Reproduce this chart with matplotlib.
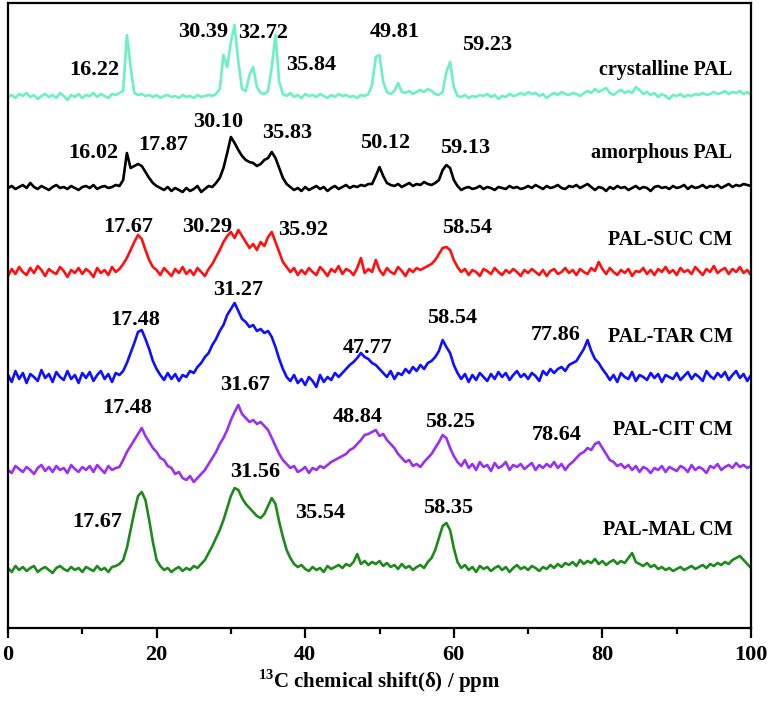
import numpy as np
import matplotlib
matplotlib.use("Agg")
import matplotlib.pyplot as plt

plt.rcParams['font.family'] = ['Liberation Serif', 'DejaVu Serif']
plt.rcParams['font.weight'] = 'bold'
plt.rcParams['mathtext.fontset'] = 'custom'
plt.rcParams['mathtext.rm'] = 'Liberation Serif:bold'
plt.rcParams['mathtext.bf'] = 'Liberation Serif:bold'

# ---------------- data (intensity above each trace baseline, 0.5 ppm steps, 0..100 ppm)
crystalline_pal = [
    0, 2, -1, 3, 1, 4, 0, 2, -2, 1, 3, 0, 2, -1, 4, 1, -3, 2, 0, 3,
    -1, 2, 1, 4, 0, 3, 1, -1, 3, 2, 4, 6, 62, 30, 4, 2, 3, 1, 2, 0,
    2, -1, 1, 2, 0, 1, -1, 2, 0, 1, -1, 2, 0, 1, 2, 1, 3, 8, 42, 30,
    55, 72, 35, 8, 6, 22, 30, 10, 4, 3, 6, 30, 62, 15, 3, 1, 4, 0, 2, -1,
    3, 1, 2, 0, 3, 1, -1, 2, 0, 3, 1, 2, 0, 1, -1, 2, 1, 3, 12, 40,
    42, 15, 5, 3, 6, 14, 5, 4, 6, 3, 5, 7, 5, 8, 6, 3, 2, 5, 25, 35,
    10, 1, 0, 2, -1, 1, 0, 2, 1, 3, 0, 2, -2, 1, 0, 3, 1, 2, 4, 2,
    5, 3, 4, 1, 3, -1, 2, 4, 2, 5, 3, 2, 4, 3, 1, 4, 6, 4, 8, 5,
    7, 9, 4, 2, 5, 7, 4, 6, 4, 10, 7, 3, 5, 2, 4, 0, 3, 1, -2, 2,
    1, 3, 0, 2, 1, 3, 2, 4, 2, 3, 5, 3, 4, 6, 3, 5, 4, 6, 3, 5,
    2]
amorphous_pal = [
    0, 2, -1, 1, 3, 0, 5, 1, -1, 2, 0, -2, 1, 3, 0, 1, -1, 2, 0, -2,
    1, 2, 0, 3, -1, 1, 2, 0, 1, 3, 2, 8, 35, 20, 22, 24, 22, 16, 10, 5,
    2, 0, -2, 1, -3, 0, -2, -4, 0, -3, -1, 2, -4, -1, 2, 1, 5, 10, 20, 35,
    51, 45, 38, 32, 28, 26, 25, 22, 24, 28, 30, 36, 30, 20, 10, 4, 1, -2, 0, -3,
    1, -2, 0, 2, -1, 1, -3, 0, 2, -1, 1, 3, 0, 2, 1, 3, 2, 4, 4, 12,
    21, 12, 5, 3, 2, 4, 1, 3, 5, 2, 4, 3, 6, 4, 3, 5, 8, 18, 23, 20,
    8, 2, -2, 0, 1, -1, 0, 2, -1, 1, 0, -2, 1, 0, -1, 2, 0, 1, -1, 0,
    2, 0, 3, 1, -1, 2, 0, 1, 3, 0, -1, 2, 1, 3, 0, 2, 4, 1, -2, 1,
    0, -3, 1, -1, 2, 0, 1, -2, 0, 2, -1, 1, 0, -3, 1, 2, 0, 1, -1, 2,
    0, 1, 3, -1, 2, 0, 1, 3, 0, 2, 1, 3, 0, 2, 4, 1, 3, 2, 4, 3,
    2]
pal_suc = [
    -4, 3, -2, 5, 0, -3, 4, -1, 6, 2, -4, 3, 0, -2, 5, 1, -5, 2, -1, 4,
    -2, 3, 0, -5, 4, -1, 2, -3, 5, 0, 3, 8, 14, 22, 30, 37, 33, 22, 12, 5,
    2, -3, 4, 0, -4, 3, -1, 5, -2, 2, -3, 4, 0, -4, 3, 8, 15, 22, 30, 36,
    40, 34, 42, 36, 30, 24, 28, 22, 30, 26, 35, 40, 30, 20, 10, 5, 0, 4, -3, 2,
    -2, 4, 0, -3, 5, 1, -4, 3, 0, 6, -2, 3, 1, -3, 4, 14, -1, 3, 0, 12,
    2, -3, 4, 0, -2, 5, 1, -4, 3, 0, 4, 2, 4, 6, 8, 12, 18, 24, 25, 22,
    12, 5, 0, 3, -3, 2, 0, -4, 3, 1, -2, 4, 0, -3, 2, -1, 3, 0, -4, 2,
    -1, 3, 0, -3, 2, -4, 1, 3, -2, 0, 4, -1, 2, -3, 3, 0, -2, 4, 1, 10,
    3, -2, 4, 0, -3, 2, -1, 3, -4, 1, 0, 4, -2, 2, -3, 3, 0, 5, -1, 2,
    -3, 4, 0, 2, -2, 5, 1, -3, 3, 0, 6, -1, 2, 4, -2, 3, 0, 5, -1, 2,
    -3]
pal_tar = [
    2, -5, 6, -2, 4, -6, 3, 0, -4, 7, -1, 3, -5, 5, 0, -3, 6, -2, 2, -6,
    4, -1, 5, -4, 2, 6, -2, 3, -5, 4, 2, 6, 14, 24, 34, 45, 47, 38, 28, 16,
    8, 2, -3, 4, -2, 3, -4, 2, 0, 6, 4, 10, 14, 20, 24, 32, 38, 46, 52, 62,
    68, 74, 66, 58, 55, 50, 52, 46, 48, 44, 46, 40, 30, 18, 8, 0, -4, 2, -6, -2,
    -8, 0, -4, -10, 2, -5, 0, -3, 4, 0, 4, 8, 12, 15, 19, 24, 20, 18, 14, 12,
    8, 4, 0, 6, -2, 4, 2, 8, 4, 10, 6, 12, 8, 14, 16, 20, 26, 37, 30, 24,
    12, 4, -2, 3, -5, 2, -3, 4, 0, -4, 3, -2, 5, 0, 4, -3, 2, 6, 0, 3,
    -2, 4, 1, -4, 6, 2, 8, 4, 8, 10, 6, 12, 14, 16, 22, 28, 37, 26, 18, 14,
    8, 3, -3, 2, -5, 4, 0, -2, 5, -4, 2, 0, -3, 4, -1, 3, -5, 2, 0, -2,
    4, -3, 1, 5, -2, 3, 0, -4, 6, 1, -2, 4, 0, 5, -3, 2, 6, -1, 3, -4,
    2]
pal_cit = [
    0, -3, 4, 1, -2, 3, 0, -4, 2, 5, -1, 3, -2, 4, 0, 2, -3, 5, 1, -2,
    3, 0, 4, -2, 5, 1, -3, 4, 0, 2, 3, 10, 18, 24, 30, 36, 42, 34, 28, 22,
    18, 12, 10, 4, 2, -4, -2, -8, -10, -6, -12, -8, -4, 0, 6, 12, 18, 26, 32, 40,
    50, 58, 65, 56, 52, 48, 50, 46, 48, 44, 40, 32, 24, 16, 10, 6, 2, 4, -2, 0,
    3, -3, 2, 0, 4, 2, 5, 8, 10, 12, 14, 16, 20, 22, 26, 30, 35, 36, 38, 40,
    34, 36, 30, 26, 22, 16, 12, 8, 10, 4, 6, 3, 8, 12, 16, 22, 28, 35, 32, 22,
    14, 8, 4, 10, 2, 6, 0, 8, 3, 5, -1, 7, 2, 4, 8, 0, 5, 3, 6, 1,
    4, 7, 0, 5, 2, 6, 3, 8, 2, 6, 0, 5, 8, 12, 16, 18, 22, 20, 26, 28,
    22, 16, 10, 8, 4, 6, 2, 5, 0, 4, -2, 3, 1, -3, 2, 0, 4, -2, 3, 1,
    -1, 4, 2, -2, 5, 0, 3, 1, -3, 4, 2, 6, 0, 3, 5, 2, 7, 3, 5, 2,
    4]
pal_mal = [
    2, -2, 4, 0, 3, -1, 2, 4, -2, 1, 3, 0, -3, 2, 4, 1, -1, 3, 0, 2,
    -2, 3, 1, -1, 4, 0, 2, -2, 3, 4, 6, 10, 22, 40, 58, 74, 78, 70, 50, 28,
    10, 4, 0, 2, -2, 1, 3, -1, 2, 0, 4, 2, 6, 10, 17, 24, 32, 40, 50, 62,
    74, 82, 80, 72, 66, 62, 58, 54, 52, 56, 64, 72, 66, 48, 33, 20, 12, 6, 3, 5,
    1, -1, 3, 0, 2, -2, 4, 1, 3, 5, 2, 6, 4, 8, 16, 6, 9, 5, 8, 6,
    9, 4, 7, 3, 5, 1, 6, 2, 4, 0, 3, 5, 2, 8, 12, 20, 32, 44, 47, 40,
    22, 8, 2, 5, 0, 3, -2, 4, 1, 3, -1, 2, 4, 0, 3, -2, 2, 5, 1, 3,
    0, 4, 2, -1, 3, 1, 5, 2, 6, 3, 7, 5, 8, 4, 10, 6, 9, 7, 11, 6,
    9, 5, 8, 10, 6, 9, 7, 12, 17, 8, 6, 4, 7, 3, 5, 1, 3, 0, 2, -1,
    1, 3, 0, 2, 4, 1, 3, 5, 2, 6, 4, 7, 5, 8, 6, 10, 12, 14, 10, 6,
    2]

series = [crystalline_pal, amorphous_pal, pal_suc, pal_tar, pal_cit, pal_mal]
names = ["crystalline PAL", "amorphous PAL", "PAL-SUC CM", "PAL-TAR CM",
         "PAL-CIT CM", "PAL-MAL CM"]
peak_labels = [
    ["16.22", "30.39", "32.72", "35.84", "49.81", "59.23"],
    ["16.02", "17.87", "30.10", "35.83", "50.12", "59.13"],
    ["17.67", "30.29", "35.92", "58.54"],
    ["17.48", "31.27", "47.77", "58.54", "77.86"],
    ["17.48", "31.67", "48.84", "58.25", "78.64"],
    ["17.67", "31.56", "35.54", "58.35"],
]

# ---------------- layout / style
colors = ["#6CF0C6", "#000000", "#FF1010", "#1010FF", "#9A30F0", "#1E8A1E"]
baselines = [97, 188, 272, 377, 470, 570]          # vertical offsets (pixel-like units)
label_pos = [
    [(8.3, 70), (22.9, 32), (31.0, 33), (37.4, 65), (48.7, 32), (61.1, 45)],
    [(8.1, 153), (17.5, 145), (24.9, 122), (34.2, 133), (47.4, 143), (58.1, 148)],
    [(12.8, 227), (23.4, 227), (36.3, 230), (58.4, 228)],
    [(13.7, 320), (27.6, 290), (45.1, 348), (56.4, 318), (70.3, 335)],
    [(12.7, 408), (28.5, 385), (43.7, 417), (56.1, 422), (70.5, 435)],
    [(8.7, 522), (29.9, 472), (38.6, 513), (55.9, 508)],
]
name_y = [70, 153, 240, 337, 430, 530]

W, H = 774, 701
fig = plt.figure(figsize=(W / 100, H / 100), dpi=100)
ax = fig.add_axes([8 / W, (H - 628) / H, (751 - 8) / W, (628 - 3) / H])

for ys, col, base in zip(series, colors, baselines):
    ys = np.asarray(ys, dtype=float)
    xs = np.linspace(0, 100, len(ys))
    ax.plot(xs, -base + ys, color=col, lw=1.9, solid_joinstyle='round', zorder=2)

for labs, poss in zip(peak_labels, label_pos):
    for t, (lx, ly) in zip(labs, poss):
        ax.text(lx, -ly, t, fontsize=16, fontweight='bold', ha='left', va='center',
                zorder=3)
for nm, ny in zip(names, name_y):
    ax.text(97.5, -ny, nm, fontsize=14.5, fontweight='bold', ha='right', va='center',
            zorder=3)

ax.set_xlim(0, 100)
ax.set_ylim(-628, -3)
ax.set_yticks([])
ax.set_xticks([0, 20, 40, 60, 80, 100])
ax.set_xticks([10, 30, 50, 70, 90], minor=True)
ax.tick_params(axis='x', which='major', direction='out', length=7, width=1.6,
               labelsize=16, pad=5)
ax.tick_params(axis='x', which='minor', direction='out', length=4, width=1.6)
for lab in ax.get_xticklabels():
    lab.set_fontweight('bold')
for sp in ax.spines.values():
    sp.set_linewidth(1.6)
ax.set_xlabel(r'$^{13}$C chemical shift(δ) / ppm', fontsize=15, fontweight='bold',
              labelpad=2)

fig.savefig("out.png", dpi=100)
